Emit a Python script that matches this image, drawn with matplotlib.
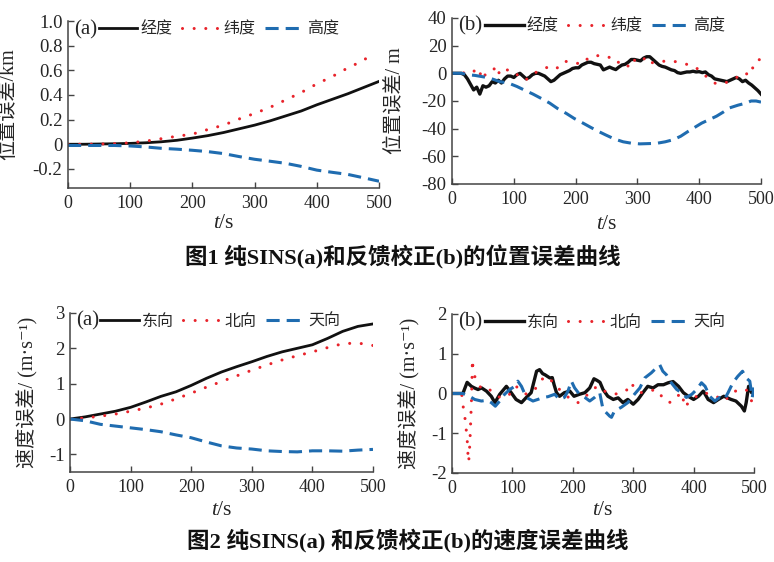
"""Two-figure panel: pure SINS vs feedback-corrected position/velocity errors."""

import matplotlib

matplotlib.use("Agg")
import matplotlib.pyplot as plt  # noqa: E402
from matplotlib.ticker import FixedFormatter, FixedLocator  # noqa: E402

# ---- Fig.1 (a): pure SINS position error, km ----
T_POS_A = [0, 25, 50, 75, 100, 125, 150, 175, 200, 225, 250, 275, 300, 325, 350,
           375, 400, 425, 450, 475, 500]
LON_A = [0, 0, 0.002, 0.004, 0.007, 0.012, 0.02, 0.032, 0.05, 0.07, 0.095, 0.125,
         0.155, 0.19, 0.23, 0.27, 0.32, 0.365, 0.41, 0.46, 0.51]
T_LAT_A = [0, 25, 50, 75, 100, 125, 150, 175, 200, 225, 250, 275, 300, 325, 350,
           375, 400, 425, 450, 475, 490]
LAT_A = [0, 0, 0.002, 0.005, 0.012, 0.025, 0.045, 0.065, 0.082, 0.12, 0.155, 0.205,
         0.25, 0.3, 0.36, 0.42, 0.49, 0.55, 0.62, 0.68, 0.74]
ALT_A = [-0.01, -0.01, -0.01, -0.01, -0.014, -0.022, -0.033, -0.04, -0.049, -0.06,
         -0.076, -0.1, -0.122, -0.138, -0.155, -0.18, -0.21, -0.228, -0.245, -0.272, -0.3]

# ---- Fig.1 (b): feedback-corrected position error, m ----
T_LON_B = list(range(0, 501, 5))
LON_B = [0, 0, 0, 0, -1, -4, -8, -12, -10, -15, -9, -10, -9, -6, -7, -5, -7, -4, -2, -2,
         -3, -1, 0, -2, -4, -3, -1, 0, 0, -1, -2, -4, -6, -5, -3, -1, 0, 1, 2, 3.5,
         4, 4, 6, 7, 8, 8, 7, 6.5, 6, 2.5, 3.5, 4.5, 3.5, 2.7, 4.5, 6, 6.5, 8, 10, 10,
         9.5, 9, 11, 12, 12, 10, 8, 6, 5, 4.5, 3.5, 2.5, 2, 0.5, 0, 0.5, 1, 1, 1.5, 1,
         1.2, 0.5, 1, -1, -2, -4, -4.5, -5, -5.5, -6, -5, -4, -3, -4, -6, -5, -7, -8.5,
         -10.5, -12.5, -15]
T_LAT_B = [0, 16, 25, 32, 38, 43, 49, 55, 63, 73, 77, 86, 91, 97, 107, 119, 129, 139,
           150, 159, 170, 179, 190, 205, 213, 222, 234, 244, 256, 264, 277, 288, 297,
           306, 316, 324, 333, 345, 357, 369, 380, 389, 397, 405, 416, 427, 436, 447,
           458, 467, 476, 481, 488, 496, 500]
LAT_B = [0, 0, 1, 2.7, 1, 3.4, -4.6, 0, 0.7, 5.5, -1.2, 1.7, 2.7, 0, -1.2, -5, -1, 1.5,
         3.4, 5.5, 3.8, 8.4, 8.7, 7, 10.6, 10, 12.7, 13, 11.3, 7.5, 8.7, 3.9, 10.6, 9,
         12, 7.7, 7.5, 9, 9, 7.5, 6.5, 3.9, 3.4, 0.5, -4.3, -7.5, -7.5, -6.2, -3.8, -1,
         -1.4, 5, 3.6, 9.8, 10]
T_ALT_B = [0, 16, 25, 37, 50, 61, 77, 91, 105, 118, 131, 145, 158, 171, 185, 198, 212,
           225, 237, 249, 263, 277, 290, 304, 318, 331, 345, 358, 370, 382, 393, 404,
           416, 428, 439, 449, 463, 476, 484, 492, 500]
ALT_B = [0, 0, -1, -1.5, -2.5, -3.4, -6, -7, -9.5, -12.3, -15, -18.3, -21.5, -25.5, -29,
         -32.7, -36, -39.2, -42, -44.6, -47.5, -49.5, -50.5, -51, -50.8, -50.6, -49.5,
         -48, -45.5, -42, -39, -36, -33.5, -31, -28, -25, -23, -21.5, -20, -20, -20.8]

# ---- Fig.2 (a): pure SINS velocity error, m/s ----
T_VEL_A = [0, 25, 50, 75, 100, 125, 150, 175, 200, 225, 250, 275, 300, 325, 350,
           375, 400, 425, 450, 475, 500]
EAST_A = [0, 0.06, 0.14, 0.22, 0.33, 0.48, 0.64, 0.77, 0.95, 1.15, 1.33, 1.48, 1.62,
          1.77, 1.9, 2.0, 2.1, 2.28, 2.48, 2.62, 2.69]
NORTH_A = [0, 0.03, 0.08, 0.14, 0.22, 0.31, 0.42, 0.57, 0.73, 0.9, 1.06, 1.22, 1.38,
           1.53, 1.67, 1.79, 1.9, 2.02, 2.13, 2.15, 2.08]
UP_A = [0, -0.05, -0.15, -0.2, -0.25, -0.3, -0.36, -0.45, -0.53, -0.65, -0.76, -0.82,
        -0.85, -0.9, -0.92, -0.93, -0.9, -0.9, -0.91, -0.88, -0.86]

# ---- Fig.2 (b): feedback-corrected velocity error, m/s ----
T_EAST_B = [0, 18, 25, 32, 37, 43, 49, 57, 65, 71, 79, 90, 98, 106, 115, 123, 131, 140,
            145, 150, 154, 162, 166, 169, 173, 178, 186, 195, 202, 211, 220, 228, 235,
            240, 245, 250, 258, 267, 275, 283, 291, 300, 308, 316, 324, 333, 341, 350,
            358, 366, 375, 383, 391, 400, 408, 416, 424, 433, 441, 450, 462, 470, 479,
            484, 487, 491, 496, 500]
EAST_B = [0, 0, 0.28, 0.18, 0.14, 0.1, 0.14, 0.06, -0.07, -0.23, -0.02, 0.18, 0.02, -0.15,
          -0.23, -0.1, 0.02, 0.56, 0.6, 0.5, 0.47, 0.39, 0.4, 0.22, 0.02, -0.07, 0.02,
          0.06, -0.07, -0.02, 0.02, 0.14, 0.37, 0.33, 0.28, 0.1, -0.07, -0.15, -0.11,
          -0.23, -0.15, -0.27, -0.15, 0.02, 0.18, 0.14, 0.22, 0.22, 0.27, 0.3, 0.18, 0.02,
          -0.07, -0.15, -0.07, 0.06, -0.15, -0.23, -0.15, -0.07, -0.15, -0.19, -0.32,
          -0.44, -0.23, 0.18, 0.02, 0.06]
T_NORTH_B = [0, 16, 18, 20, 22, 23.7, 25.4, 26.5, 27.6, 29, 30.3, 31, 32, 33.1, 33.7,
             34.8, 37.5, 43, 48.6, 60, 68, 79, 93, 104, 112, 123, 137, 145, 153, 162,
             169, 178, 189, 200, 209, 220, 231, 239, 247, 258, 269, 280, 288, 297, 303,
             314, 325, 338, 344, 352, 363, 371, 380, 386, 393, 405, 416, 429, 441, 452,
             460, 468.5, 479, 487, 496, 500]
NORTH_B = [0, 0, -0.3, -0.44, -0.69, -0.94, -1.23, -1.57, -1.72, -1.4, -0.98, -0.65,
           -0.27, 0.35, 0.85, 0.64, 0.43, 0.31, 0.1, 0.1, 0.06, -0.1, -0.07, 0.18, 0.14,
           -0.02, 0.1, 0.27, 0.43, 0.35, 0.27, 0.1, -0.05, -0.19, -0.23, -0.07, 0.02,
           0.18, 0.1, 0.02, -0.02, 0.02, 0.06, 0.27, 0.1, 0.02, 0.06, 0.1, 0.0, -0.19,
           -0.23, -0.1, 0.02, -0.35, -0.19, -0.07, 0.02, -0.02, -0.1, -0.19, -0.02, 0.06,
           0.06, 0.1, -0.19, -0.07]
T_UP_B = [0, 18, 29, 37.5, 48.6, 58.6, 65, 71.7, 79, 87, 95.5, 104, 109, 115, 123, 134,
          142, 151, 159, 170, 178, 186, 192, 197.6, 203, 211, 220, 228, 236, 244.5, 250,
          261, 264, 269, 280, 291, 302, 311, 319, 330, 338, 344, 349, 355, 363, 372, 380,
          388, 397, 405, 413, 419, 426.6, 435, 443, 451, 457, 465, 473, 481, 487, 493,
          497, 500]
UP_B = [0, 0, -0.07, -0.15, -0.19, -0.17, -0.23, -0.32, -0.19, -0.02, 0.1, 0.18, 0.31,
        0.18, -0.1, -0.19, -0.15, -0.1, -0.08, -0.02, -0.15, -0.1, 0.06, 0.31, 0.14,
        -0.02, -0.1, -0.19, -0.1, 0.02, -0.4, -0.57, -0.6, -0.44, -0.35, -0.23, -0.02,
        0.14, 0.39, 0.52, 0.64, 0.72, 0.56, 0.47, 0.27, 0.1, 0.02, -0.1, -0.02, 0.1,
        0.27, 0.18, -0.07, -0.19, -0.1, -0.15, 0.02, 0.27, 0.43, 0.56, 0.39, 0.31, -0.1,
        0.15]

POS_LABELS = ["经度", "纬度", "高度"]
VEL_LABELS = ["东向", "北向", "天向"]

BLACK = "#111111"
RED = "#e8232b"
BLUE = "#1f6cb0"
TEXT = "#262626"

plt.rcParams["font.family"] = ["Liberation Serif", "Noto Sans CJK SC", "DejaVu Sans"]
plt.rcParams["axes.unicode_minus"] = False
plt.rcParams["mathtext.fontset"] = "custom"
plt.rcParams["mathtext.rm"] = "Liberation Serif"
plt.rcParams["mathtext.it"] = "Liberation Serif:italic"


def _style(ax, ylim, yticks, ylabels, ylabel, ylab_x, xlab_y):
    for side in ("top", "right"):
        ax.spines[side].set_visible(False)
    for side in ("left", "bottom"):
        ax.spines[side].set_linewidth(1.1)
        ax.spines[side].set_color("#444444")
    ax.set_xlim(0, 500)
    ax.set_ylim(*ylim)
    ax.xaxis.set_major_locator(FixedLocator([0, 100, 200, 300, 400, 500]))
    ax.yaxis.set_major_locator(FixedLocator(yticks))
    ax.yaxis.set_major_formatter(FixedFormatter(ylabels))
    ax.tick_params(direction="in", length=4, width=1, colors="#444444",
                   labelcolor=TEXT, labelsize=13.5)
    ax.tick_params(axis="x", labelsize=13, pad=5)
    ax.tick_params(axis="y", pad=4)
    ax.set_ylabel(ylabel, fontsize=14.5, color=TEXT)
    ax.yaxis.set_label_coords(ylab_x, 0.5)
    ax.set_xlabel("$t$/s", fontsize=15.5, color=TEXT)
    ax.xaxis.set_label_coords(0.5, xlab_y)
    ax.xaxis.label.set_va("center")


def _lines(ax, s1, s2, s3, black_lw):
    h1, = ax.plot(*s1, color=BLACK, lw=black_lw, solid_joinstyle="round")
    h2, = ax.plot(*s2, color=RED, lw=2.2, dash_capstyle="round",
                  linestyle=(0, (0.01, 3.8)))
    h3, = ax.plot(*s3, color=BLUE, lw=2.2, linestyle=(0, (4.3, 2.3)))
    return [h1, h2, h3]


def _legend(ax, handles, labels, tag, x0):
    ax.text(0.02, 0.95, tag, transform=ax.transAxes, fontsize=15, color=TEXT,
            va="center", ha="left")
    ax.legend(handles, labels, loc="upper left", bbox_to_anchor=(x0, 0.995),
              ncol=3, frameon=False, fontsize=11.5, handlelength=2.4,
              handletextpad=0.2, columnspacing=0.6, borderpad=0,
              borderaxespad=0, labelcolor=TEXT)


def main():
    fig = plt.figure(figsize=(7.74, 5.62), dpi=100)

    ax1 = fig.add_axes([0.0879, 0.6655, 0.4018, 0.2971])
    h = _lines(ax1, (T_POS_A, LON_A), (T_LAT_A, LAT_A), (T_POS_A, ALT_A), 2.0)
    _style(ax1, (-0.355, 1.0), [-0.2, 0, 0.2, 0.4, 0.6, 0.8, 1.0],
           ["-0.2", "0", "0.2", "0.4", "0.6", "0.8", "1.0"],
           "位置误差/km", -0.16, -0.21)
    _legend(ax1, h, POS_LABELS, "(a)", 0.1)

    ax2 = fig.add_axes([0.584, 0.6726, 0.3992, 0.2954])
    h = _lines(ax2, (T_LON_B, LON_B), (T_LAT_B, LAT_B), (T_ALT_B, ALT_B), 2.4)
    _style(ax2, (-80, 40), [-80, -60, -40, -20, 0, 20, 40],
           ["-80", "-60", "-40", "-20", "0", "20", "40"],
           "位置误差/ m", -0.152, -0.245)
    _legend(ax2, h, POS_LABELS, "(b)", 0.108)

    ax3 = fig.add_axes([0.0904, 0.1601, 0.3915, 0.283])
    h = _lines(ax3, (T_VEL_A, EAST_A), (T_VEL_A, NORTH_A), (T_VEL_A, UP_A), 2.0)
    _style(ax3, (-1.5, 3), [-1, 0, 1, 2, 3], ["-1", "0", "1", "2", "3"],
           "速度误差/ (m·s⁻¹)", -0.108, -0.24)
    _legend(ax3, h, VEL_LABELS, "(a)", 0.1)

    ax4 = fig.add_axes([0.584, 0.1584, 0.3902, 0.2829])
    h = _lines(ax4, (T_EAST_B, EAST_B), (T_NORTH_B, NORTH_B), (T_UP_B, UP_B), 2.4)
    _style(ax4, (-2, 2), [-2, -1, 0, 1, 2], ["-2", "-1", "0", "1", "2"],
           "速度误差/ (m·s⁻¹)", -0.108, -0.233)
    _legend(ax4, h, VEL_LABELS, "(b)", 0.11)

    fig.text(0.521, 1 - 257 / 562, "图1 纯SINS(a)和反馈校正(b)的位置误差曲线",
             ha="center", va="center", fontsize=16.2, fontweight="bold", color="#111111")
    fig.text(0.527, 1 - 541 / 562, "图2 纯SINS(a) 和反馈校正(b)的速度误差曲线",
             ha="center", va="center", fontsize=16.2, fontweight="bold", color="#111111")

    fig.savefig("out.png", dpi=100, facecolor="white")
    plt.close(fig)


if __name__ == "__main__":
    main()
